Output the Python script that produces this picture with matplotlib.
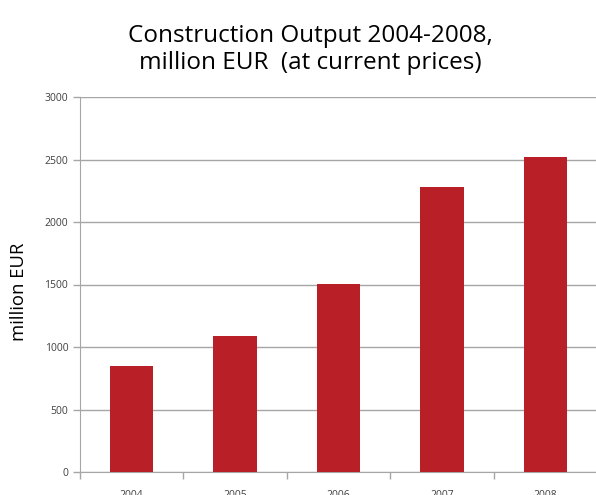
import numpy as np
import matplotlib.pyplot as plt

years = ['2004', '2005', '2006', '2007', '2008']
output = [845, 1090, 1505, 2280, 2520]

plt.rcParams['font.family'] = ['Open Sans', 'DejaVu Sans']

fig = plt.figure(figsize=(5.96, 4.95), dpi=100)
ax = fig.add_axes([80 / 596, 1 - 472 / 495, 517 / 596, 375 / 495])

x = np.arange(len(years))
ax.bar(x, output, width=0.42, color='#b81f27', zorder=3)

ax.set_xlim(-0.5, len(years) - 0.5)
ax.set_ylim(0, 3000)
ax.set_yticks(np.arange(0, 3001, 500))
ax.yaxis.grid(True, color='#a6a6a6', linewidth=1, zorder=0)

ax.set_xticks(x)
ax.set_xticklabels(years)
ax.set_xticks(np.arange(-0.5, len(years) - 0.4, 1), minor=True)
ax.tick_params(axis='x', which='major', length=0, pad=13, labelsize=7.5, labelcolor='#404040')
ax.tick_params(axis='x', which='minor', length=5, color='#a6a6a6', width=1)
ax.tick_params(axis='y', length=5, color='#a6a6a6', width=1, labelsize=7.5, labelcolor='#404040')

for side in ['top', 'right']:
    ax.spines[side].set_visible(False)
for side in ['left', 'bottom']:
    ax.spines[side].set_color('#a6a6a6')

ax.set_ylabel('million EUR', fontsize=13.3)
ax.yaxis.set_label_coords(-0.1, 0.48)
fig.text(0.52, 0.9, 'Construction Output 2004-2008,\nmillion EUR  (at current prices)',
         ha='center', va='center', fontsize=17.5, linespacing=1.2)

fig.savefig('out.png', dpi=100)
